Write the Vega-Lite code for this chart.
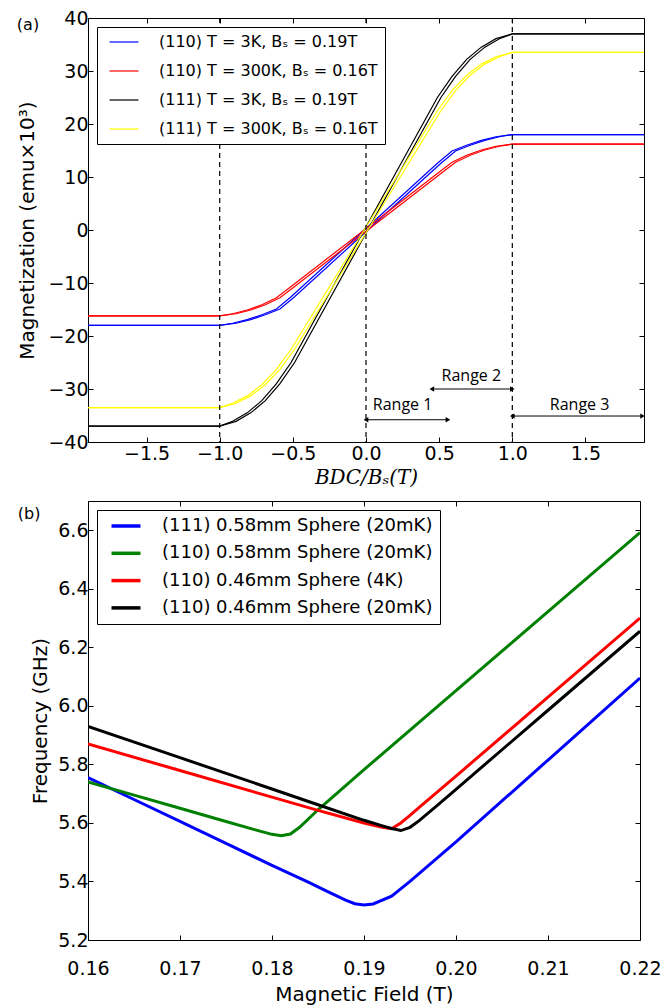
{
  "$schema": "https://vega.github.io/schema/vega-lite/v6.json",
  "padding": {"left": 16, "top": 8, "right": 5, "bottom": 0},
  "background": "white",
  "spacing": 12,
  "config": {
    "font": "DejaVu Sans",
    "view": {"stroke": "#000", "strokeWidth": 1},
    "axis": {"grid": false, "labelFont": "DejaVu Sans", "labelFontSize": 19, "labelColor": "#000", "titleFont": "DejaVu Sans", "titleFontSize": 20, "titleFontWeight": "normal", "titleColor": "#000", "tickColor": "#000", "domainColor": "#000", "tickSize": -5, "labelOverlap": false, "labelFlush": false, "domain": false}
  },
  "resolve": {"scale": {"color": "independent"}, "legend": {"color": "independent"}},
  "datasets": {
    "curvesA": [
      {"s": "(110) T = 3K, Bₛ = 0.19T", "b": "A", "x": -1.9, "y": -18},
      {"s": "(110) T = 3K, Bₛ = 0.19T", "b": "A", "x": -1.0, "y": -18},
      {"s": "(110) T = 3K, Bₛ = 0.19T", "b": "A", "x": -0.912, "y": -17.6},
      {"s": "(110) T = 3K, Bₛ = 0.19T", "b": "A", "x": -0.812, "y": -16.9},
      {"s": "(110) T = 3K, Bₛ = 0.19T", "b": "A", "x": -0.712, "y": -16.0},
      {"s": "(110) T = 3K, Bₛ = 0.19T", "b": "A", "x": -0.612, "y": -14.9},
      {"s": "(110) T = 3K, Bₛ = 0.19T", "b": "A", "x": -0.512, "y": -12.6},
      {"s": "(110) T = 3K, Bₛ = 0.19T", "b": "A", "x": -0.012, "y": 0},
      {"s": "(110) T = 3K, Bₛ = 0.19T", "b": "A", "x": 0.488, "y": 12.6},
      {"s": "(110) T = 3K, Bₛ = 0.19T", "b": "A", "x": 0.588, "y": 14.9},
      {"s": "(110) T = 3K, Bₛ = 0.19T", "b": "A", "x": 0.688, "y": 16.0},
      {"s": "(110) T = 3K, Bₛ = 0.19T", "b": "A", "x": 0.788, "y": 16.9},
      {"s": "(110) T = 3K, Bₛ = 0.19T", "b": "A", "x": 0.888, "y": 17.6},
      {"s": "(110) T = 3K, Bₛ = 0.19T", "b": "A", "x": 1.0, "y": 18},
      {"s": "(110) T = 3K, Bₛ = 0.19T", "b": "A", "x": 1.9, "y": 18},
      {"s": "(110) T = 3K, Bₛ = 0.19T", "b": "B", "x": -1.9, "y": -18},
      {"s": "(110) T = 3K, Bₛ = 0.19T", "b": "B", "x": -1.0, "y": -18},
      {"s": "(110) T = 3K, Bₛ = 0.19T", "b": "B", "x": -0.888, "y": -17.6},
      {"s": "(110) T = 3K, Bₛ = 0.19T", "b": "B", "x": -0.788, "y": -16.9},
      {"s": "(110) T = 3K, Bₛ = 0.19T", "b": "B", "x": -0.688, "y": -16.0},
      {"s": "(110) T = 3K, Bₛ = 0.19T", "b": "B", "x": -0.588, "y": -14.9},
      {"s": "(110) T = 3K, Bₛ = 0.19T", "b": "B", "x": -0.488, "y": -12.6},
      {"s": "(110) T = 3K, Bₛ = 0.19T", "b": "B", "x": 0.012, "y": 0},
      {"s": "(110) T = 3K, Bₛ = 0.19T", "b": "B", "x": 0.512, "y": 12.6},
      {"s": "(110) T = 3K, Bₛ = 0.19T", "b": "B", "x": 0.612, "y": 14.9},
      {"s": "(110) T = 3K, Bₛ = 0.19T", "b": "B", "x": 0.712, "y": 16.0},
      {"s": "(110) T = 3K, Bₛ = 0.19T", "b": "B", "x": 0.812, "y": 16.9},
      {"s": "(110) T = 3K, Bₛ = 0.19T", "b": "B", "x": 0.912, "y": 17.6},
      {"s": "(110) T = 3K, Bₛ = 0.19T", "b": "B", "x": 1.0, "y": 18},
      {"s": "(110) T = 3K, Bₛ = 0.19T", "b": "B", "x": 1.9, "y": 18},
      {"s": "(110) T = 300K, Bₛ = 0.16T", "b": "A", "x": -1.9, "y": -16.2},
      {"s": "(110) T = 300K, Bₛ = 0.16T", "b": "A", "x": -1.0, "y": -16.2},
      {"s": "(110) T = 300K, Bₛ = 0.16T", "b": "A", "x": -0.912, "y": -15.8},
      {"s": "(110) T = 300K, Bₛ = 0.16T", "b": "A", "x": -0.812, "y": -15.1},
      {"s": "(110) T = 300K, Bₛ = 0.16T", "b": "A", "x": -0.712, "y": -14.1},
      {"s": "(110) T = 300K, Bₛ = 0.16T", "b": "A", "x": -0.612, "y": -12.8},
      {"s": "(110) T = 300K, Bₛ = 0.16T", "b": "A", "x": -0.512, "y": -10.65},
      {"s": "(110) T = 300K, Bₛ = 0.16T", "b": "A", "x": -0.012, "y": 0},
      {"s": "(110) T = 300K, Bₛ = 0.16T", "b": "A", "x": 0.488, "y": 10.65},
      {"s": "(110) T = 300K, Bₛ = 0.16T", "b": "A", "x": 0.588, "y": 12.8},
      {"s": "(110) T = 300K, Bₛ = 0.16T", "b": "A", "x": 0.688, "y": 14.1},
      {"s": "(110) T = 300K, Bₛ = 0.16T", "b": "A", "x": 0.788, "y": 15.1},
      {"s": "(110) T = 300K, Bₛ = 0.16T", "b": "A", "x": 0.888, "y": 15.8},
      {"s": "(110) T = 300K, Bₛ = 0.16T", "b": "A", "x": 1.0, "y": 16.2},
      {"s": "(110) T = 300K, Bₛ = 0.16T", "b": "A", "x": 1.9, "y": 16.2},
      {"s": "(110) T = 300K, Bₛ = 0.16T", "b": "B", "x": -1.9, "y": -16.2},
      {"s": "(110) T = 300K, Bₛ = 0.16T", "b": "B", "x": -1.0, "y": -16.2},
      {"s": "(110) T = 300K, Bₛ = 0.16T", "b": "B", "x": -0.888, "y": -15.8},
      {"s": "(110) T = 300K, Bₛ = 0.16T", "b": "B", "x": -0.788, "y": -15.1},
      {"s": "(110) T = 300K, Bₛ = 0.16T", "b": "B", "x": -0.688, "y": -14.1},
      {"s": "(110) T = 300K, Bₛ = 0.16T", "b": "B", "x": -0.588, "y": -12.8},
      {"s": "(110) T = 300K, Bₛ = 0.16T", "b": "B", "x": -0.488, "y": -10.65},
      {"s": "(110) T = 300K, Bₛ = 0.16T", "b": "B", "x": 0.012, "y": 0},
      {"s": "(110) T = 300K, Bₛ = 0.16T", "b": "B", "x": 0.512, "y": 10.65},
      {"s": "(110) T = 300K, Bₛ = 0.16T", "b": "B", "x": 0.612, "y": 12.8},
      {"s": "(110) T = 300K, Bₛ = 0.16T", "b": "B", "x": 0.712, "y": 14.1},
      {"s": "(110) T = 300K, Bₛ = 0.16T", "b": "B", "x": 0.812, "y": 15.1},
      {"s": "(110) T = 300K, Bₛ = 0.16T", "b": "B", "x": 0.912, "y": 15.8},
      {"s": "(110) T = 300K, Bₛ = 0.16T", "b": "B", "x": 1.0, "y": 16.2},
      {"s": "(110) T = 300K, Bₛ = 0.16T", "b": "B", "x": 1.9, "y": 16.2},
      {"s": "(111) T = 3K, Bₛ = 0.19T", "b": "A", "x": -1.9, "y": -37},
      {"s": "(111) T = 3K, Bₛ = 0.19T", "b": "A", "x": -1.0, "y": -37},
      {"s": "(111) T = 3K, Bₛ = 0.19T", "b": "A", "x": -0.912, "y": -36.1},
      {"s": "(111) T = 3K, Bₛ = 0.19T", "b": "A", "x": -0.812, "y": -34.5},
      {"s": "(111) T = 3K, Bₛ = 0.19T", "b": "A", "x": -0.712, "y": -32.2},
      {"s": "(111) T = 3K, Bₛ = 0.19T", "b": "A", "x": -0.612, "y": -29.0},
      {"s": "(111) T = 3K, Bₛ = 0.19T", "b": "A", "x": -0.512, "y": -25.0},
      {"s": "(111) T = 3K, Bₛ = 0.19T", "b": "A", "x": -0.012, "y": 0},
      {"s": "(111) T = 3K, Bₛ = 0.19T", "b": "A", "x": 0.488, "y": 25.0},
      {"s": "(111) T = 3K, Bₛ = 0.19T", "b": "A", "x": 0.588, "y": 29.0},
      {"s": "(111) T = 3K, Bₛ = 0.19T", "b": "A", "x": 0.688, "y": 32.2},
      {"s": "(111) T = 3K, Bₛ = 0.19T", "b": "A", "x": 0.788, "y": 34.5},
      {"s": "(111) T = 3K, Bₛ = 0.19T", "b": "A", "x": 0.888, "y": 36.1},
      {"s": "(111) T = 3K, Bₛ = 0.19T", "b": "A", "x": 1.0, "y": 37},
      {"s": "(111) T = 3K, Bₛ = 0.19T", "b": "A", "x": 1.9, "y": 37},
      {"s": "(111) T = 3K, Bₛ = 0.19T", "b": "B", "x": -1.9, "y": -37},
      {"s": "(111) T = 3K, Bₛ = 0.19T", "b": "B", "x": -1.0, "y": -37},
      {"s": "(111) T = 3K, Bₛ = 0.19T", "b": "B", "x": -0.888, "y": -36.1},
      {"s": "(111) T = 3K, Bₛ = 0.19T", "b": "B", "x": -0.788, "y": -34.5},
      {"s": "(111) T = 3K, Bₛ = 0.19T", "b": "B", "x": -0.688, "y": -32.2},
      {"s": "(111) T = 3K, Bₛ = 0.19T", "b": "B", "x": -0.588, "y": -29.0},
      {"s": "(111) T = 3K, Bₛ = 0.19T", "b": "B", "x": -0.488, "y": -25.0},
      {"s": "(111) T = 3K, Bₛ = 0.19T", "b": "B", "x": 0.012, "y": 0},
      {"s": "(111) T = 3K, Bₛ = 0.19T", "b": "B", "x": 0.512, "y": 25.0},
      {"s": "(111) T = 3K, Bₛ = 0.19T", "b": "B", "x": 0.612, "y": 29.0},
      {"s": "(111) T = 3K, Bₛ = 0.19T", "b": "B", "x": 0.712, "y": 32.2},
      {"s": "(111) T = 3K, Bₛ = 0.19T", "b": "B", "x": 0.812, "y": 34.5},
      {"s": "(111) T = 3K, Bₛ = 0.19T", "b": "B", "x": 0.912, "y": 36.1},
      {"s": "(111) T = 3K, Bₛ = 0.19T", "b": "B", "x": 1.0, "y": 37},
      {"s": "(111) T = 3K, Bₛ = 0.19T", "b": "B", "x": 1.9, "y": 37},
      {"s": "(111) T = 300K, Bₛ = 0.16T", "b": "A", "x": -1.9, "y": -33.5},
      {"s": "(111) T = 300K, Bₛ = 0.16T", "b": "A", "x": -1.0, "y": -33.5},
      {"s": "(111) T = 300K, Bₛ = 0.16T", "b": "A", "x": -0.912, "y": -32.7},
      {"s": "(111) T = 300K, Bₛ = 0.16T", "b": "A", "x": -0.812, "y": -31.3},
      {"s": "(111) T = 300K, Bₛ = 0.16T", "b": "A", "x": -0.712, "y": -29.2},
      {"s": "(111) T = 300K, Bₛ = 0.16T", "b": "A", "x": -0.612, "y": -26.3},
      {"s": "(111) T = 300K, Bₛ = 0.16T", "b": "A", "x": -0.512, "y": -22.5},
      {"s": "(111) T = 300K, Bₛ = 0.16T", "b": "A", "x": -0.012, "y": 0},
      {"s": "(111) T = 300K, Bₛ = 0.16T", "b": "A", "x": 0.488, "y": 22.5},
      {"s": "(111) T = 300K, Bₛ = 0.16T", "b": "A", "x": 0.588, "y": 26.3},
      {"s": "(111) T = 300K, Bₛ = 0.16T", "b": "A", "x": 0.688, "y": 29.2},
      {"s": "(111) T = 300K, Bₛ = 0.16T", "b": "A", "x": 0.788, "y": 31.3},
      {"s": "(111) T = 300K, Bₛ = 0.16T", "b": "A", "x": 0.888, "y": 32.7},
      {"s": "(111) T = 300K, Bₛ = 0.16T", "b": "A", "x": 1.0, "y": 33.5},
      {"s": "(111) T = 300K, Bₛ = 0.16T", "b": "A", "x": 1.9, "y": 33.5},
      {"s": "(111) T = 300K, Bₛ = 0.16T", "b": "B", "x": -1.9, "y": -33.5},
      {"s": "(111) T = 300K, Bₛ = 0.16T", "b": "B", "x": -1.0, "y": -33.5},
      {"s": "(111) T = 300K, Bₛ = 0.16T", "b": "B", "x": -0.888, "y": -32.7},
      {"s": "(111) T = 300K, Bₛ = 0.16T", "b": "B", "x": -0.788, "y": -31.3},
      {"s": "(111) T = 300K, Bₛ = 0.16T", "b": "B", "x": -0.688, "y": -29.2},
      {"s": "(111) T = 300K, Bₛ = 0.16T", "b": "B", "x": -0.588, "y": -26.3},
      {"s": "(111) T = 300K, Bₛ = 0.16T", "b": "B", "x": -0.488, "y": -22.5},
      {"s": "(111) T = 300K, Bₛ = 0.16T", "b": "B", "x": 0.012, "y": 0},
      {"s": "(111) T = 300K, Bₛ = 0.16T", "b": "B", "x": 0.512, "y": 22.5},
      {"s": "(111) T = 300K, Bₛ = 0.16T", "b": "B", "x": 0.612, "y": 26.3},
      {"s": "(111) T = 300K, Bₛ = 0.16T", "b": "B", "x": 0.712, "y": 29.2},
      {"s": "(111) T = 300K, Bₛ = 0.16T", "b": "B", "x": 0.812, "y": 31.3},
      {"s": "(111) T = 300K, Bₛ = 0.16T", "b": "B", "x": 0.912, "y": 32.7},
      {"s": "(111) T = 300K, Bₛ = 0.16T", "b": "B", "x": 1.0, "y": 33.5},
      {"s": "(111) T = 300K, Bₛ = 0.16T", "b": "B", "x": 1.9, "y": 33.5}
    ],
    "arrows": [
      {"x1": 0.0, "x2": 0.56, "y": -35.8},
      {"x1": 0.45, "x2": 1.0, "y": -30.0},
      {"x1": 1.0, "x2": 1.89, "y": -35.1}
    ],
    "heads": [
      {"x": 0.0, "y": -35.8, "sh": "triangle-left"},
      {"x": 0.56, "y": -35.8, "sh": "triangle-right"},
      {"x": 0.45, "y": -30.0, "sh": "triangle-left"},
      {"x": 1.0, "y": -30.0, "sh": "triangle-right"},
      {"x": 1.0, "y": -35.1, "sh": "triangle-left"},
      {"x": 1.89, "y": -35.1, "sh": "triangle-right"}
    ],
    "rangeText": [
      {"x": 0.25, "y": -33.1, "t": "Range 1"},
      {"x": 0.72, "y": -27.5, "t": "Range 2"},
      {"x": 1.46, "y": -33.1, "t": "Range 3"}
    ],
    "freq": [
      {"s": "(111) 0.58mm Sphere (20mK)", "x": 0.160, "y": 5.755},
      {"s": "(111) 0.58mm Sphere (20mK)", "x": 0.165, "y": 5.680},
      {"s": "(111) 0.58mm Sphere (20mK)", "x": 0.170, "y": 5.605},
      {"s": "(111) 0.58mm Sphere (20mK)", "x": 0.175, "y": 5.530},
      {"s": "(111) 0.58mm Sphere (20mK)", "x": 0.180, "y": 5.455},
      {"s": "(111) 0.58mm Sphere (20mK)", "x": 0.184, "y": 5.397},
      {"s": "(111) 0.58mm Sphere (20mK)", "x": 0.186, "y": 5.366},
      {"s": "(111) 0.58mm Sphere (20mK)", "x": 0.188, "y": 5.336},
      {"s": "(111) 0.58mm Sphere (20mK)", "x": 0.189, "y": 5.324},
      {"s": "(111) 0.58mm Sphere (20mK)", "x": 0.190, "y": 5.320},
      {"s": "(111) 0.58mm Sphere (20mK)", "x": 0.191, "y": 5.323},
      {"s": "(111) 0.58mm Sphere (20mK)", "x": 0.193, "y": 5.350},
      {"s": "(111) 0.58mm Sphere (20mK)", "x": 0.195, "y": 5.400},
      {"s": "(111) 0.58mm Sphere (20mK)", "x": 0.200, "y": 5.535},
      {"s": "(111) 0.58mm Sphere (20mK)", "x": 0.205, "y": 5.675},
      {"s": "(111) 0.58mm Sphere (20mK)", "x": 0.210, "y": 5.815},
      {"s": "(111) 0.58mm Sphere (20mK)", "x": 0.215, "y": 5.955},
      {"s": "(111) 0.58mm Sphere (20mK)", "x": 0.220, "y": 6.095},
      {"s": "(110) 0.58mm Sphere (20mK)", "x": 0.160, "y": 5.740},
      {"s": "(110) 0.58mm Sphere (20mK)", "x": 0.165, "y": 5.695},
      {"s": "(110) 0.58mm Sphere (20mK)", "x": 0.170, "y": 5.650},
      {"s": "(110) 0.58mm Sphere (20mK)", "x": 0.175, "y": 5.605},
      {"s": "(110) 0.58mm Sphere (20mK)", "x": 0.178, "y": 5.578},
      {"s": "(110) 0.58mm Sphere (20mK)", "x": 0.180, "y": 5.561},
      {"s": "(110) 0.58mm Sphere (20mK)", "x": 0.181, "y": 5.556},
      {"s": "(110) 0.58mm Sphere (20mK)", "x": 0.182, "y": 5.562},
      {"s": "(110) 0.58mm Sphere (20mK)", "x": 0.183, "y": 5.585},
      {"s": "(110) 0.58mm Sphere (20mK)", "x": 0.185, "y": 5.645},
      {"s": "(110) 0.58mm Sphere (20mK)", "x": 0.190, "y": 5.782},
      {"s": "(110) 0.58mm Sphere (20mK)", "x": 0.200, "y": 6.052},
      {"s": "(110) 0.58mm Sphere (20mK)", "x": 0.210, "y": 6.322},
      {"s": "(110) 0.58mm Sphere (20mK)", "x": 0.220, "y": 6.592},
      {"s": "(110) 0.46mm Sphere (4K)", "x": 0.160, "y": 5.870},
      {"s": "(110) 0.46mm Sphere (4K)", "x": 0.170, "y": 5.779},
      {"s": "(110) 0.46mm Sphere (4K)", "x": 0.180, "y": 5.688},
      {"s": "(110) 0.46mm Sphere (4K)", "x": 0.185, "y": 5.643},
      {"s": "(110) 0.46mm Sphere (4K)", "x": 0.190, "y": 5.600},
      {"s": "(110) 0.46mm Sphere (4K)", "x": 0.192, "y": 5.585},
      {"s": "(110) 0.46mm Sphere (4K)", "x": 0.193, "y": 5.580},
      {"s": "(110) 0.46mm Sphere (4K)", "x": 0.194, "y": 5.600},
      {"s": "(110) 0.46mm Sphere (4K)", "x": 0.195, "y": 5.626},
      {"s": "(110) 0.46mm Sphere (4K)", "x": 0.196, "y": 5.653},
      {"s": "(110) 0.46mm Sphere (4K)", "x": 0.200, "y": 5.760},
      {"s": "(110) 0.46mm Sphere (4K)", "x": 0.210, "y": 6.030},
      {"s": "(110) 0.46mm Sphere (4K)", "x": 0.220, "y": 6.300},
      {"s": "(110) 0.46mm Sphere (20mK)", "x": 0.160, "y": 5.930},
      {"s": "(110) 0.46mm Sphere (20mK)", "x": 0.170, "y": 5.823},
      {"s": "(110) 0.46mm Sphere (20mK)", "x": 0.180, "y": 5.716},
      {"s": "(110) 0.46mm Sphere (20mK)", "x": 0.185, "y": 5.662},
      {"s": "(110) 0.46mm Sphere (20mK)", "x": 0.190, "y": 5.609},
      {"s": "(110) 0.46mm Sphere (20mK)", "x": 0.192, "y": 5.590},
      {"s": "(110) 0.46mm Sphere (20mK)", "x": 0.193, "y": 5.581},
      {"s": "(110) 0.46mm Sphere (20mK)", "x": 0.194, "y": 5.574},
      {"s": "(110) 0.46mm Sphere (20mK)", "x": 0.195, "y": 5.585},
      {"s": "(110) 0.46mm Sphere (20mK)", "x": 0.196, "y": 5.608},
      {"s": "(110) 0.46mm Sphere (20mK)", "x": 0.198, "y": 5.661},
      {"s": "(110) 0.46mm Sphere (20mK)", "x": 0.200, "y": 5.715},
      {"s": "(110) 0.46mm Sphere (20mK)", "x": 0.210, "y": 5.985},
      {"s": "(110) 0.46mm Sphere (20mK)", "x": 0.220, "y": 6.255}
    ]
  },
  "vconcat": [
    {
      "width": 556,
      "height": 424,
      "resolve": {"axis": {"x": "independent", "y": "independent"}},
      "layer": [
        {
          "data": {"name": "curvesA"},
          "mark": {"type": "line", "strokeWidth": 1.2, "clip": true},
          "encoding": {
            "x": {"field": "x", "type": "quantitative", "scale": {"domain": [-1.9, 1.9], "nice": false, "zero": false},
                  "axis": {"orient": "bottom", "values": [-1.5, -1, -0.5, 0, 0.5, 1, 1.5], "format": ".1f", "labelPadding": 7, "title": "BDC/Bₛ(T)", "titleFont": "DejaVu Serif", "titleFontStyle": "italic", "titlePadding": 4}},
            "y": {"field": "y", "type": "quantitative", "scale": {"domain": [-40, 40], "nice": false, "zero": false},
                  "axis": {"orient": "left", "values": [-40, -30, -20, -10, 0, 10, 20, 30, 40], "format": "d", "labelPadding": 5, "title": "Magnetization (emu×10³)", "titlePadding": 10}},
            "color": {"field": "s", "type": "nominal",
                      "scale": {"domain": ["(110) T = 3K, Bₛ = 0.19T", "(110) T = 300K, Bₛ = 0.16T", "(111) T = 3K, Bₛ = 0.19T", "(111) T = 300K, Bₛ = 0.16T"], "range": ["#0000ff", "#ff0000", "#000000", "#ffff00"]},
                      "legend": {"orient": "top-left", "offset": 9, "title": null, "symbolType": "M-2,0L2,0", "symbolSize": 210, "symbolStrokeWidth": 1.2, "symbolOffset": 12, "labelFontSize": 16, "labelFont": "DejaVu Sans", "labelColor": "#000", "labelOffset": 27, "labelLimit": 400, "rowPadding": 13, "padding": 7, "strokeColor": "#000", "fillColor": "#fff"}},
            "detail": {"field": "b"}
          }
        },
        {
          "data": {"values": [{"v": -1}, {"v": 0}, {"v": 1}]},
          "mark": {"type": "rule", "color": "#000", "strokeWidth": 1.2, "strokeDash": [5, 4]},
          "encoding": {
            "x": {"field": "v", "type": "quantitative", "scale": {"domain": [-1.9, 1.9], "nice": false, "zero": false}, "axis": {"orient": "top", "values": [-1.5, -1, -0.5, 0, 0.5, 1, 1.5], "labels": false, "title": null}}
          }
        },
        {
          "data": {"name": "arrows"},
          "mark": {"type": "rule", "color": "#000", "strokeWidth": 1},
          "encoding": {
            "x": {"field": "x1", "type": "quantitative", "axis": null},
            "x2": {"field": "x2"},
            "y": {"field": "y", "type": "quantitative", "scale": {"domain": [-40, 40], "nice": false, "zero": false}, "axis": {"orient": "right", "values": [-40, -30, -20, -10, 0, 10, 20, 30, 40], "labels": false, "title": null}}
          }
        },
        {
          "data": {"name": "heads"},
          "mark": {"type": "point", "filled": true, "color": "#000", "size": 28, "opacity": 1},
          "encoding": {
            "x": {"field": "x", "type": "quantitative", "axis": null},
            "y": {"field": "y", "type": "quantitative", "axis": null},
            "shape": {"field": "sh", "type": "nominal", "scale": null}
          }
        },
        {
          "data": {"name": "rangeText"},
          "mark": {"type": "text", "font": "Open Sans", "fontSize": 16, "color": "#000", "align": "center", "baseline": "middle"},
          "encoding": {
            "x": {"field": "x", "type": "quantitative", "axis": null},
            "y": {"field": "y", "type": "quantitative", "axis": null},
            "text": {"field": "t"}
          }
        },
        {
          "data": {"values": [{"x": -2.31, "y": 38.7, "t": "(a)"}]},
          "mark": {"type": "text", "fontSize": 16, "color": "#000", "align": "center", "baseline": "middle"},
          "encoding": {
            "x": {"field": "x", "type": "quantitative", "scale": {"domain": [-1.9, 1.9], "nice": false, "zero": false}, "axis": null},
            "y": {"field": "y", "type": "quantitative", "axis": null},
            "text": {"field": "t"}
          }
        }
      ]
    },
    {
      "width": 552,
      "height": 439,
      "resolve": {"axis": {"x": "independent", "y": "independent"}},
      "layer": [
        {
          "data": {"name": "freq"},
          "mark": {"type": "line", "strokeWidth": 3, "clip": true},
          "encoding": {
            "x": {"field": "x", "type": "quantitative", "scale": {"domain": [0.16, 0.22], "nice": false, "zero": false},
                  "axis": {"orient": "bottom", "values": [0.16, 0.17, 0.18, 0.19, 0.2, 0.21, 0.22], "format": ".2f", "labelPadding": 24, "title": "Magnetic Field (T)", "titlePadding": 6}},
            "y": {"field": "y", "type": "quantitative", "scale": {"domain": [5.2, 6.7], "nice": false, "zero": false},
                  "axis": {"orient": "left", "values": [5.2, 5.4, 5.6, 5.8, 6.0, 6.2, 6.4, 6.6], "format": ".1f", "labelPadding": 5, "title": "Frequency (GHz)", "titlePadding": 7}},
            "color": {"field": "s", "type": "nominal",
                      "scale": {"domain": ["(111) 0.58mm Sphere (20mK)", "(110) 0.58mm Sphere (20mK)", "(110) 0.46mm Sphere (4K)", "(110) 0.46mm Sphere (20mK)"], "range": ["#0000ff", "#008000", "#ff0000", "#000000"]},
                      "legend": {"orient": "top-left", "offset": 9, "title": null, "symbolType": "M-2,0L2,0", "symbolSize": 210, "symbolStrokeWidth": 3.5, "symbolOffset": 13, "labelFontSize": 18, "labelFont": "DejaVu Sans", "labelColor": "#000", "labelOffset": 27, "labelLimit": 400, "rowPadding": 9.3, "padding": 7, "strokeColor": "#000", "fillColor": "#fff"}}
          }
        },
        {
          "data": {"values": [{"x": 0.1536, "y": 6.656, "t": "(b)"}]},
          "mark": {"type": "text", "fontSize": 16, "color": "#000", "align": "center", "baseline": "middle"},
          "encoding": {
            "x": {"field": "x", "type": "quantitative", "scale": {"domain": [0.16, 0.22], "nice": false, "zero": false}, "axis": {"orient": "top", "values": [0.16, 0.17, 0.18, 0.19, 0.2, 0.21, 0.22], "labels": false, "title": null}},
            "y": {"field": "y", "type": "quantitative", "scale": {"domain": [5.2, 6.7], "nice": false, "zero": false}, "axis": {"orient": "right", "values": [5.2, 5.4, 5.6, 5.8, 6.0, 6.2, 6.4, 6.6], "labels": false, "title": null}},
            "text": {"field": "t"}
          }
        }
      ]
    }
  ]
}
